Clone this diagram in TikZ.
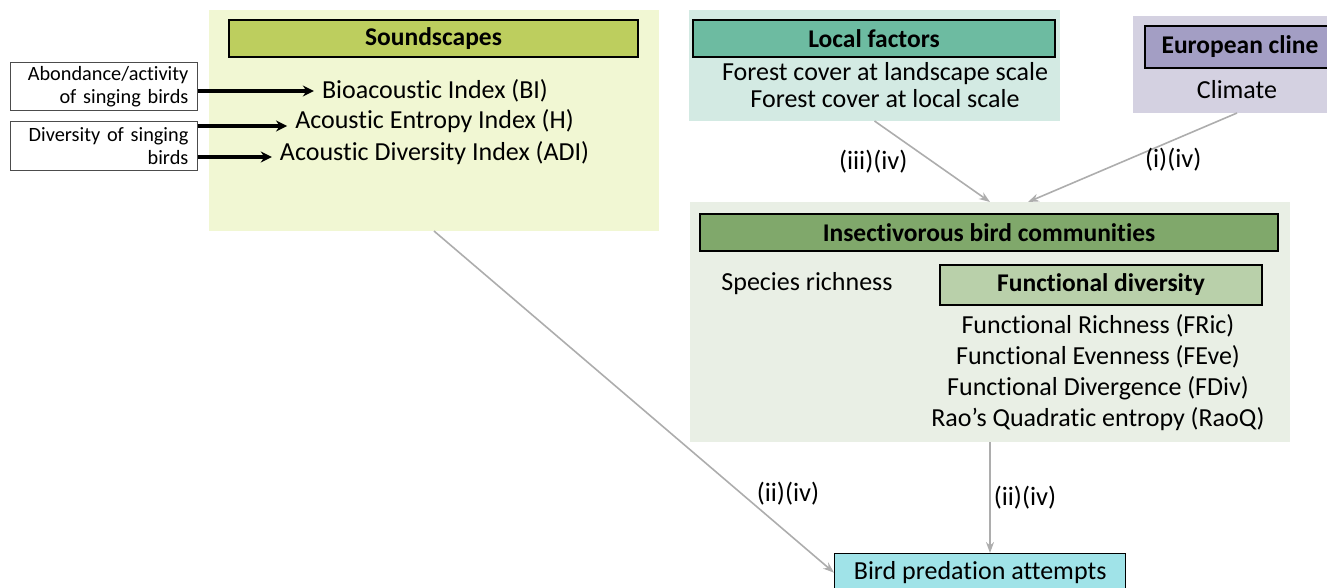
\documentclass[tikz,border=0pt]{standalone}
\usepackage{fontspec}
\setmainfont{Carlito}[Ligatures={NoCommon,NoRare,NoContextual}]
\usetikzlibrary{arrows.meta}
\definecolor{soundbg}{HTML}{F1F7D3}
\definecolor{soundhd}{HTML}{BDCE5E}
\definecolor{localbg}{HTML}{D3EAE3}
\definecolor{localhd}{HTML}{6DBBA1}
\definecolor{clinebg}{HTML}{D4D1E1}
\definecolor{clinehd}{HTML}{A39EC4}
\definecolor{insectbg}{HTML}{E9EFE5}
\definecolor{insecthd}{HTML}{80A86B}
\definecolor{funchd}{HTML}{B9D0AA}
\definecolor{predfill}{HTML}{A0E3E8}
\definecolor{linkgray}{HTML}{ADADAD}
\begin{document}
\begin{tikzpicture}[x=1pt,y=-1pt,
  panel/.style={fill=#1,draw=none,anchor=north west,inner sep=0pt,outer sep=0pt},
  header/.style={fill=#1,draw=black,line width=1.3pt,anchor=north west,inner sep=0pt,outer sep=0pt,font=\bfseries\fontsize{25.5}{29}\selectfont},
  body/.style={font=\fontsize{26}{31}\selectfont,inner sep=2pt,align=center},
  note/.style={draw=black!70,line width=0.8pt,anchor=north west,fill=white,inner xsep=9pt,inner ysep=0pt,text width=169pt,align=right,font=\fontsize{20.3}{23}\selectfont},
  tag/.style={font=\fontsize{26.5}{30}\selectfont,inner sep=2pt},
  link/.style={draw=linkgray,line width=1.6pt,-{Stealth[length=11pt,width=8pt]}},
  feed/.style={draw=black,line width=3.4pt,-{Stealth[length=11pt,width=11pt]},shorten >=6pt}]
\useasboundingbox (0,0) rectangle (1327,587);

% panels
\node[panel=soundbg,minimum width=450pt,minimum height=221pt] (sound) at (209,10) {};
\node[panel=localbg,minimum width=371pt,minimum height=111pt] (local) at (689,10) {};
\node[panel=clinebg,minimum width=200pt,minimum height=97pt] (cline) at (1133,16) {};
\node[panel=insectbg,minimum width=600pt,minimum height=240pt] (insect) at (690,202) {};

% headers
\node[header=soundhd,minimum width=409pt,minimum height=37pt] (soundhead) at (229,20) {Soundscapes};
\node[header=localhd,minimum width=362pt,minimum height=37pt] (localhead) at (693,20) {Local factors};
\node[header=clinehd,minimum width=190pt,minimum height=42pt] (clinehead) at (1145,26) {European cline};
\node[header=insecthd,minimum width=578pt,minimum height=37pt] (insecthead) at (700,214) {Insectivorous bird communities};
\node[header=funchd,minimum width=322pt,minimum height=40pt] (funchead) at (940,265) {Functional diversity};

% texts
\node[body] (bi) at (435,91) {Bioacoustic Index (BI)};
\node[body] (ent) at (434.5,121) {Acoustic Entropy Index (H)};
\node[body] (adi) at (434.5,153) {Acoustic Diversity Index (ADI)};
\node[body,font=\fontsize{26}{27}\selectfont] (forest) at (885,85) {Forest cover at landscape scale\\Forest cover at local scale};
\node[body] (climate) at (1237,90) {Climate};
\node[body] (rich) at (807,284) {Species richness};
\node[body] (indices) at (1098,372.5) {Functional Richness (FRic)\\Functional Evenness (FEve)\\Functional Divergence (FDiv)\\Rao’s Quadratic entropy (RaoQ)};

\node[note,minimum height=48pt] (abund) at (10,62) {Abondance/activity\\of singing birds};
\node[note,minimum height=49pt] (divers) at (10,121) {Diversity of singing\\birds};

\node[draw=black,line width=1.3pt,fill=predfill,anchor=north west,minimum width=291pt,minimum height=38pt,inner sep=0pt,font=\fontsize{26}{30}\selectfont] (pred) at (834,553) {Bird predation attempts};

% links
\draw[feed] (bi.west -| abund.east) -- (bi.west);
\draw[feed] ([yshift=-5pt]ent.west -| divers.east) -- ([yshift=-5pt]ent.west);
\draw[feed] ([yshift=-4pt]adi.west -| divers.east) -- ([yshift=-4pt]adi.west);
\draw[link] (local.south) -- node[tag,midway,left=22pt] {(iii)(iv)} (insect.north);
\draw[link] ([xshift=4pt]cline.south) -- node[tag,pos=0.52,right=14pt] {(i)(iv)} ([xshift=38pt]insect.north);
\draw[link] (sound.south) -- node[tag,pos=0.77,right=12pt] {(ii)(iv)} (pred.west);
\draw[link] (insect.south) -- node[tag,midway,right=1pt] {(ii)(iv)} (insect.south |- pred.north);
\end{tikzpicture}
\end{document}
